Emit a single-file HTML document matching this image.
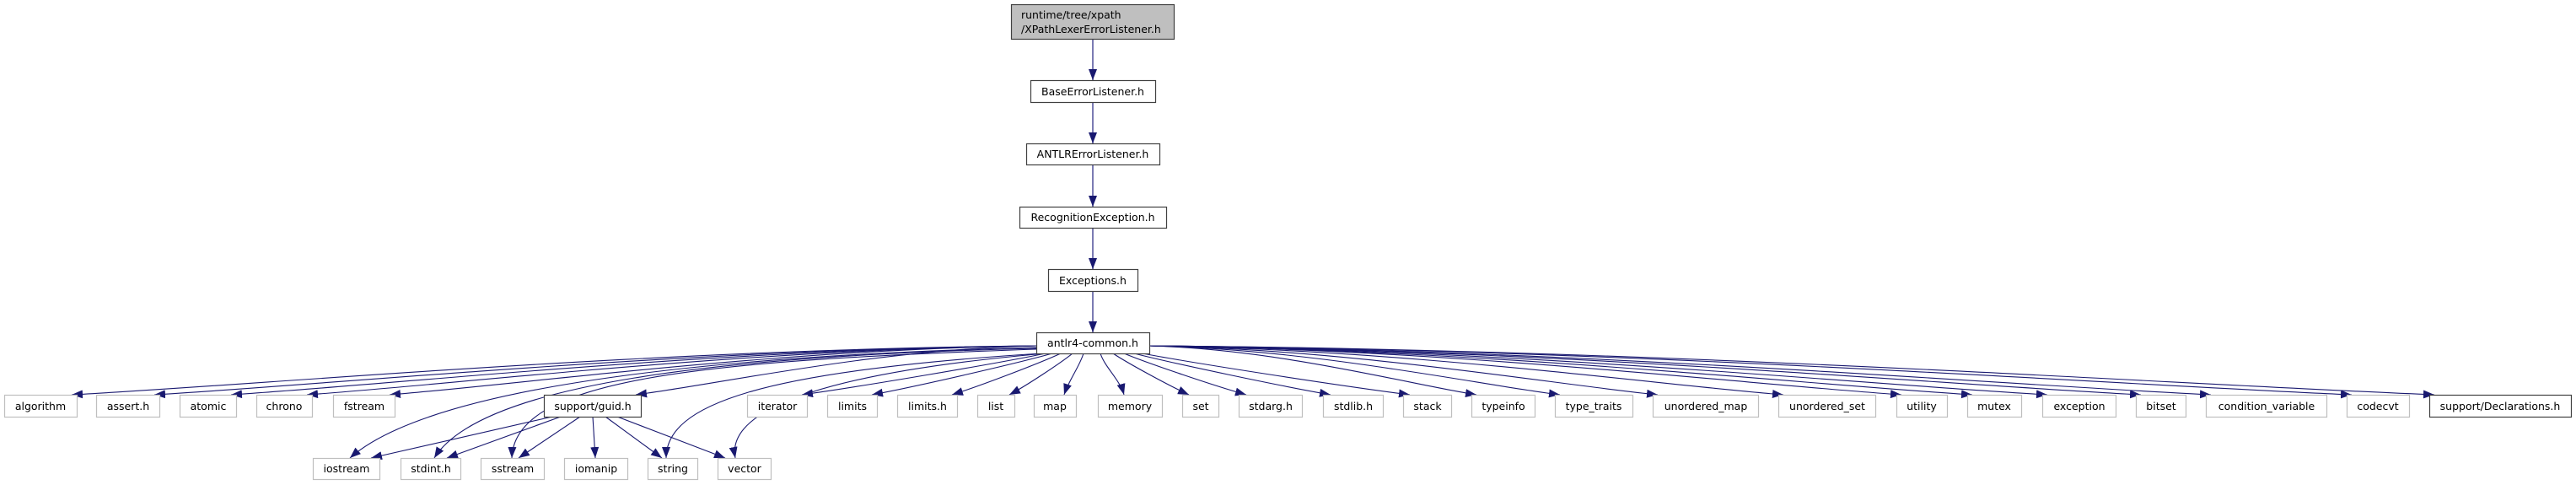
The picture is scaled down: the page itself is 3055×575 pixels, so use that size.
<!DOCTYPE html>
<html><head><meta charset="utf-8"><style>
html,body{margin:0;padding:0;background:#fff;}
svg{display:block;}
text{font-family:"DejaVu Sans","Liberation Sans",sans-serif;font-size:12.5px;fill:#000;}
</style></head><body>
<svg width="3055" height="575" viewBox="0 0 3055 575" xmlns="http://www.w3.org/2000/svg">
<defs>
<marker id="a" markerUnits="userSpaceOnUse" markerWidth="14" markerHeight="11" refX="13" refY="5" orient="auto">
<path d="M0,0 L13,5 L0,10 z" fill="#191970"/></marker>
</defs>
<g fill="none" stroke="#5a5aa0" stroke-width="1.6" marker-end="url(#a)">
<path d="M1296,46 L1296,95"/>
<path d="M1296,121 L1296,170"/>
<path d="M1296,195 L1296,245"/>
<path d="M1296,270 L1296,319"/>
<path d="M1296,345 L1296,394"/>
</g>
<g fill="none" stroke="#191970" stroke-width="1.1" marker-end="url(#a)">
<path d="M1229,410 C771,414 314,456 85,468"/>
<path d="M1229,410 C811,414 392,456 183,468"/>
<path d="M1229,410 C847,414 465,456 274,468"/>
<path d="M1229,410 C883,414 537,456 364,468"/>
<path d="M1229,410 C922,414 615,456 462,468"/>
<path d="M1229,410 C1039,414 849,456 754,468"/>
<path d="M1240,419 C1182,431 1023,458 951,468"/>
<path d="M1248,419 C1205,431 1088,458 1034,468"/>
<path d="M1258,419 C1232,431 1161,458 1129,468"/>
<path d="M1272,419 C1257,431 1216,458 1197,468"/>
<path d="M1285,419 C1280,435 1268,450 1262,468"/>
<path d="M1305,419 C1310,435 1328,450 1333,468"/>
<path d="M1320,419 C1338,431 1388,458 1410,468"/>
<path d="M1333,419 C1362,431 1442,458 1478,468"/>
<path d="M1345,419 C1392,431 1520,458 1578,468"/>
<path d="M1355,419 C1418,431 1593,458 1672,468"/>
<path d="M1363,410 C1518,414 1673,456 1751,468"/>
<path d="M1363,410 C1558,414 1753,456 1850,468"/>
<path d="M1363,410 C1604,414 1845,456 1966,468"/>
<path d="M1363,410 C1664,414 1965,456 2115,468"/>
<path d="M1363,410 C1720,414 2077,456 2255,468"/>
<path d="M1363,410 C1753,414 2144,456 2339,468"/>
<path d="M1363,410 C1789,414 2215,456 2428,468"/>
<path d="M1363,410 C1833,414 2304,456 2539,468"/>
<path d="M1363,410 C1867,414 2370,456 2622,468"/>
<path d="M1363,410 C1933,414 2504,456 2789,468"/>
<path d="M1363,410 C1973,414 2582,456 2887,468"/>
<path d="M1229,412 C900,420 520,450 415,543"/>
<path d="M1229,413 C850,422 570,455 515,543"/>
<path d="M1229,414 C820,428 610,450 607,543"/>
<path d="M1235,419 C900,440 790,480 790,543"/>
<path d="M1240,419 C1000,440 860,480 872,543"/>
<path d="M655,494 L440,543"/>
<path d="M665,494 L530,543"/>
<path d="M688,494 L615,543"/>
<path d="M703,494 L706,543"/>
<path d="M718,494 L785,543"/>
<path d="M732,494 L860,543"/>
</g>
<g stroke-width="1.2">
<rect x="1199.5" y="5.5" width="193" height="41" fill="#bfbfbf" stroke="#404040"/>
<g fill="#fff" stroke="#404040">
<rect x="1222.5" y="95.5" width="148" height="26"/>
<rect x="1217.5" y="170.5" width="158" height="25"/>
<rect x="1209.5" y="245.5" width="174" height="25"/>
<rect x="1243.5" y="319.5" width="106" height="26"/>
<rect x="1229.5" y="394.5" width="134" height="25"/>
<rect x="645.5" y="468.5" width="115" height="26"/>
<rect x="2881.5" y="468.5" width="168" height="26"/>
</g>
<g fill="#fff" stroke="#bfbfbf">
<rect x="5.5" y="468.5" width="86" height="26"/>
<rect x="114.5" y="468.5" width="75" height="26"/>
<rect x="213.5" y="468.5" width="67" height="26"/>
<rect x="304.5" y="468.5" width="66" height="26"/>
<rect x="395.5" y="468.5" width="73" height="26"/>
<rect x="886.5" y="468.5" width="71" height="26"/>
<rect x="981.5" y="468.5" width="59" height="26"/>
<rect x="1064.5" y="468.5" width="71" height="26"/>
<rect x="1159.5" y="468.5" width="44" height="26"/>
<rect x="1226.5" y="468.5" width="50" height="26"/>
<rect x="1302.5" y="468.5" width="76" height="26"/>
<rect x="1402.5" y="468.5" width="43" height="26"/>
<rect x="1469.5" y="468.5" width="75" height="26"/>
<rect x="1569.5" y="468.5" width="71" height="26"/>
<rect x="1664.5" y="468.5" width="57" height="26"/>
<rect x="1745.5" y="468.5" width="75" height="26"/>
<rect x="1844.5" y="468.5" width="92" height="26"/>
<rect x="1960.5" y="468.5" width="125" height="26"/>
<rect x="2109.5" y="468.5" width="115" height="26"/>
<rect x="2249.5" y="468.5" width="60" height="26"/>
<rect x="2333.5" y="468.5" width="64" height="26"/>
<rect x="2422.5" y="468.5" width="87" height="26"/>
<rect x="2533.5" y="468.5" width="59" height="26"/>
<rect x="2616.5" y="468.5" width="143" height="26"/>
<rect x="2783.5" y="468.5" width="74" height="26"/>
<rect x="371.5" y="543.5" width="79" height="25"/>
<rect x="475.5" y="543.5" width="71" height="25"/>
<rect x="570.5" y="543.5" width="75" height="25"/>
<rect x="669.5" y="543.5" width="75" height="25"/>
<rect x="768.5" y="543.5" width="59" height="25"/>
<rect x="851.5" y="543.5" width="63" height="25"/>
</g>
</g>
<text x="1211" y="22">runtime/tree/xpath</text>
<text x="1211" y="39">/XPathLexerErrorListener.h</text>
<g text-anchor="middle">
<text x="1296" y="113">BaseErrorListener.h</text>
<text x="1296" y="187">ANTLRErrorListener.h</text>
<text x="1296" y="262">RecognitionException.h</text>
<text x="1296" y="337">Exceptions.h</text>
<text x="1296" y="411">antlr4-common.h</text>
<text x="48" y="486">algorithm</text>
<text x="152" y="486">assert.h</text>
<text x="247" y="486">atomic</text>
<text x="337" y="486">chrono</text>
<text x="432" y="486">fstream</text>
<text x="703" y="486">support/guid.h</text>
<text x="922" y="486">iterator</text>
<text x="1011" y="486">limits</text>
<text x="1100" y="486">limits.h</text>
<text x="1181" y="486">list</text>
<text x="1251" y="486">map</text>
<text x="1340" y="486">memory</text>
<text x="1424" y="486">set</text>
<text x="1507" y="486">stdarg.h</text>
<text x="1605" y="486">stdlib.h</text>
<text x="1693" y="486">stack</text>
<text x="1783" y="486">typeinfo</text>
<text x="1890" y="486">type_traits</text>
<text x="2023" y="486">unordered_map</text>
<text x="2167" y="486">unordered_set</text>
<text x="2279" y="486">utility</text>
<text x="2365" y="486">mutex</text>
<text x="2466" y="486">exception</text>
<text x="2563" y="486">bitset</text>
<text x="2688" y="486">condition_variable</text>
<text x="2820" y="486">codecvt</text>
<text x="2965" y="486">support/Declarations.h</text>
<text x="411" y="560">iostream</text>
<text x="511" y="560">stdint.h</text>
<text x="608" y="560">sstream</text>
<text x="707" y="560">iomanip</text>
<text x="798" y="560">string</text>
<text x="883" y="560">vector</text>
</g>
</svg>
</body></html>
